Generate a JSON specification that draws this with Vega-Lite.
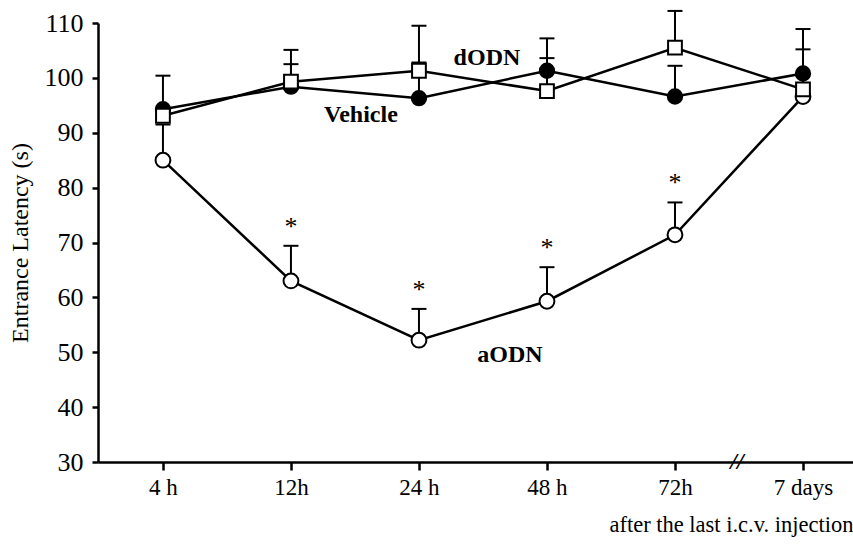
{
  "$schema": "https://vega.github.io/schema/vega-lite/v6.json",
  "width": 755,
  "height": 439,
  "autosize": {"type": "none"},
  "padding": {"left": 98, "top": 23, "right": 0, "bottom": 82},
  "background": "white",
  "config": {
    "view": {"stroke": null},
    "font": "Liberation Serif",
    "axis": {
      "domainColor": "black", "domainWidth": 2.5, "tickColor": "black", "tickWidth": 2.5,
      "labelColor": "black", "titleColor": "black", "grid": false,
      "labelFont": "Liberation Serif", "titleFont": "Liberation Serif",
      "labelFontSize": 23, "titleFontSize": 22, "titleFontWeight": "normal"
    }
  },
  "datasets": {
    "main": [
      {"group": "aODN", "time": "4 h", "mean": 85.0, "err": 91.5, "sig": ""},
      {"group": "aODN", "time": "12h", "mean": 63.0, "err": 69.4, "sig": "*"},
      {"group": "aODN", "time": "24 h", "mean": 52.2, "err": 57.9, "sig": "*"},
      {"group": "aODN", "time": "48 h", "mean": 59.3, "err": 65.5, "sig": "*"},
      {"group": "aODN", "time": "72h", "mean": 71.4, "err": 77.3, "sig": "*"},
      {"group": "aODN", "time": "7 days", "mean": 96.6, "err": 96.6, "sig": ""},
      {"group": "Vehicle", "time": "4 h", "mean": 94.3, "err": 100.4, "sig": ""},
      {"group": "Vehicle", "time": "12h", "mean": 98.4, "err": 102.5, "sig": ""},
      {"group": "Vehicle", "time": "24 h", "mean": 96.3, "err": 102.8, "sig": ""},
      {"group": "Vehicle", "time": "48 h", "mean": 101.3, "err": 107.2, "sig": ""},
      {"group": "Vehicle", "time": "72h", "mean": 96.6, "err": 102.2, "sig": ""},
      {"group": "Vehicle", "time": "7 days", "mean": 100.8, "err": 108.9, "sig": ""},
      {"group": "dODN", "time": "4 h", "mean": 93.1, "err": 93.1, "sig": ""},
      {"group": "dODN", "time": "12h", "mean": 99.3, "err": 105.1, "sig": ""},
      {"group": "dODN", "time": "24 h", "mean": 101.3, "err": 109.5, "sig": ""},
      {"group": "dODN", "time": "48 h", "mean": 97.6, "err": 103.6, "sig": ""},
      {"group": "dODN", "time": "72h", "mean": 105.5, "err": 112.2, "sig": ""},
      {"group": "dODN", "time": "7 days", "mean": 97.9, "err": 105.2, "sig": ""}
    ]
  },
  "encoding": {
    "x": {
      "field": "time", "type": "ordinal",
      "sort": ["4 h", "12h", "24 h", "48 h", "72h", "7 days"],
      "scale": {"type": "point", "padding": 0.449, "align": 0.565},
      "axis": {
        "title": "after the last i.c.v. injection", "labelAngle": 0,
        "tickSize": 8, "labelPadding": 6, "titleAnchor": "end", "titleAlign": "right",
        "titlePadding": 14, "titleFontSize": 22.5
      }
    }
  },
  "layer": [
    {
      "data": {"name": "main"},
      "mark": {"type": "line", "color": "black", "strokeWidth": 2.5},
      "encoding": {
        "y": {
          "field": "mean", "type": "quantitative",
          "scale": {"domain": [30, 110], "nice": false, "zero": false},
          "axis": {"title": "Entrance Latency (s)", "values": [30, 40, 50, 60, 70, 80, 90, 100, 110], "tickSize": 6, "labelPadding": 9, "titlePadding": 12, "labelFontSize": 26, "titleFontSize": 24}
        },
        "detail": {"field": "group"},
        "order": {"value": null}
      }
    },
    {
      "data": {"name": "main"},
      "mark": {"type": "rule", "color": "black", "strokeWidth": 2},
      "encoding": {
        "y": {"field": "mean", "type": "quantitative"},
        "y2": {"field": "err"}
      }
    },
    {
      "data": {"name": "main"},
      "transform": [{"filter": "datum.err > datum.mean"}],
      "mark": {"type": "tick", "color": "black", "size": 15, "thickness": 2, "opacity": 1},
      "encoding": {
        "y": {"field": "err", "type": "quantitative"}
      }
    },
    {
      "data": {"name": "main"},
      "mark": {"type": "point", "filled": true, "stroke": "black", "strokeWidth": 2, "opacity": 1, "fillOpacity": 1},
      "encoding": {
        "y": {"field": "mean", "type": "quantitative"},
        "shape": {"field": "group", "type": "nominal", "scale": {"domain": ["aODN", "Vehicle", "dODN"], "range": ["circle", "circle", "square"]}, "legend": null},
        "fill": {"field": "group", "type": "nominal", "scale": {"domain": ["aODN", "Vehicle", "dODN"], "range": ["white", "black", "white"]}, "legend": null},
        "size": {"field": "group", "type": "nominal", "scale": {"domain": ["aODN", "Vehicle", "dODN"], "range": [220, 190, 120]}, "legend": null}
      }
    },
    {
      "data": {"name": "main"},
      "transform": [{"filter": "datum.sig == '*'"}],
      "mark": {"type": "text", "color": "black", "fontSize": 26, "dy": -11, "baseline": "alphabetic"},
      "encoding": {
        "y": {"field": "err", "type": "quantitative"},
        "text": {"field": "sig"}
      }
    },
    {
      "data": {"values": [{"time": "24 h", "v": 102.35, "label": "dODN"}]},
      "mark": {"type": "text", "color": "black", "fontSize": 24, "fontWeight": "bold", "dx": 68, "baseline": "alphabetic"},
      "encoding": {"y": {"field": "v", "type": "quantitative"}, "text": {"field": "label"}}
    },
    {
      "data": {"values": [{"time": "24 h", "v": 92.0, "label": "Vehicle"}]},
      "mark": {"type": "text", "color": "black", "fontSize": 24, "fontWeight": "bold", "dx": -58, "baseline": "alphabetic"},
      "encoding": {"y": {"field": "v", "type": "quantitative"}, "text": {"field": "label"}}
    },
    {
      "data": {"values": [{"time": "48 h", "v": 48.2, "label": "aODN"}]},
      "mark": {"type": "text", "color": "black", "fontSize": 24, "fontWeight": "bold", "dx": -37, "baseline": "alphabetic"},
      "encoding": {"y": {"field": "v", "type": "quantitative"}, "text": {"field": "label"}}
    },
    {
      "data": {"values": [{"time": "72h", "v": 30, "label": "//"}]},
      "mark": {"type": "text", "color": "black", "fontSize": 24, "fontWeight": "bold", "fontStyle": "italic", "dx": 62, "baseline": "middle"},
      "encoding": {"y": {"field": "v", "type": "quantitative"}, "text": {"field": "label"}}
    }
  ]
}
